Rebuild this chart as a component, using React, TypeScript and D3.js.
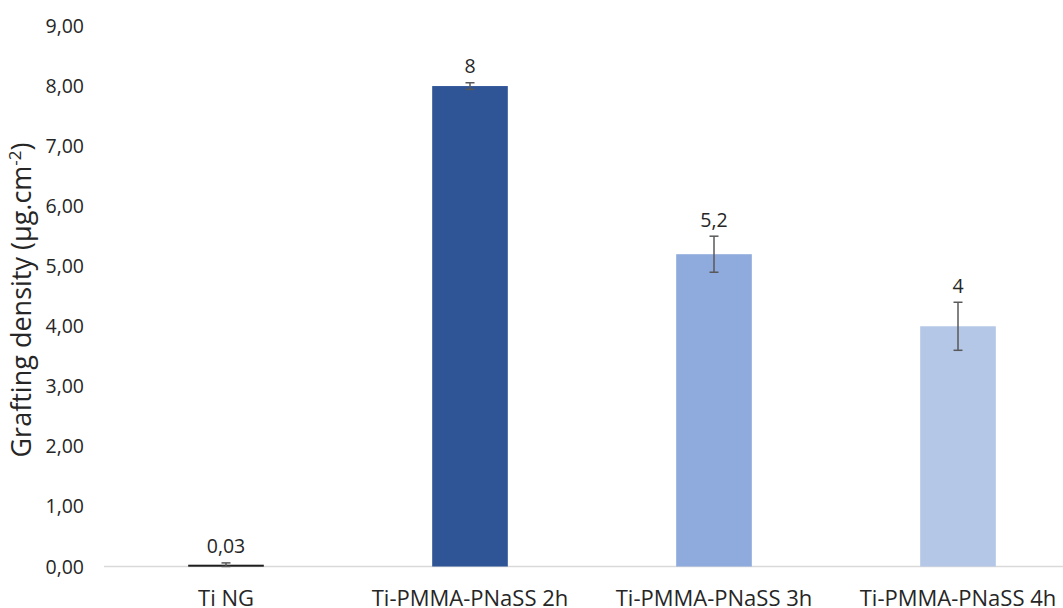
import React from "react";
import * as d3 from "d3";

const categories = ["Ti NG", "Ti-PMMA-PNaSS 2h", "Ti-PMMA-PNaSS 3h", "Ti-PMMA-PNaSS 4h"];
const values = [0.03, 8, 5.2, 4];
const errors = [0.03, 0.055, 0.3, 0.4];
const valueLabels = ["0,03", "8", "5,2", "4"];
const barColors = ["#1e1e1e", "#2f5597", "#8faadc", "#b4c7e7"];
const yTicks = [0, 1, 2, 3, 4, 5, 6, 7, 8, 9];

const W = 1063;
const H = 608;
const left = 104;
const right = 1080;
const top = 26;
const bottom = 566.5;

export default function App() {
  const x = d3.scaleBand<string>().domain(categories).range([left, right]).paddingInner(0.69).paddingOuter(0.345);
  const y = d3.scaleLinear().domain([0, 9]).range([bottom, top]);
  const fmt = (v: number) => v.toFixed(2).replace(".", ",");
  const font = "'Open Sans', 'Noto Sans', sans-serif";

  return (
    <svg width={W} height={H} style={{ position: "absolute", left: 0, top: 0, background: "#fff" }} fontFamily={font}>
      {yTicks.map((t) => (
        <text key={t} x={84} y={y(t) + 7} textAnchor="end" fontSize={19.5} fill="#262626">
          {fmt(t)}
        </text>
      ))}
      <line x1={left} x2={W} y1={bottom} y2={bottom} stroke="#d9d9d9" strokeWidth={1.5} />
      {categories.map((c, i) => {
        const bx = x(c)!;
        const bw = x.bandwidth();
        const cx = bx + bw / 2;
        const v = values[i];
        const e = errors[i];
        return (
          <g key={c}>
            <rect x={bx} y={y(v)} width={bw} height={Math.max(bottom - y(v), 2)} fill={barColors[i]} />
            <g stroke="#595959" strokeWidth={1.5}>
              <line x1={cx} x2={cx} y1={y(v + e)} y2={y(Math.max(v - e, 0))} />
              <line x1={cx - 4.5} x2={cx + 4.5} y1={y(v + e)} y2={y(v + e)} />
              <line x1={cx - 4.5} x2={cx + 4.5} y1={y(Math.max(v - e, 0))} y2={y(Math.max(v - e, 0))} />
            </g>
            <text x={cx} y={y(v + e) - 9.5} textAnchor="middle" fontSize={19.5} fill="#262626">
              {valueLabels[i]}
            </text>
            <text x={cx} y={606} textAnchor="middle" fontSize={22} fill="#262626">
              {c}
            </text>
          </g>
        );
      })}
      <text transform={`translate(31,300) rotate(-90)`} textAnchor="middle" fontSize={27} fill="#262626">
        Grafting density (µg.cm
        <tspan dy={-10} fontSize={17}>-2</tspan>
        <tspan dy={10}>)</tspan>
      </text>
    </svg>
  );
}
